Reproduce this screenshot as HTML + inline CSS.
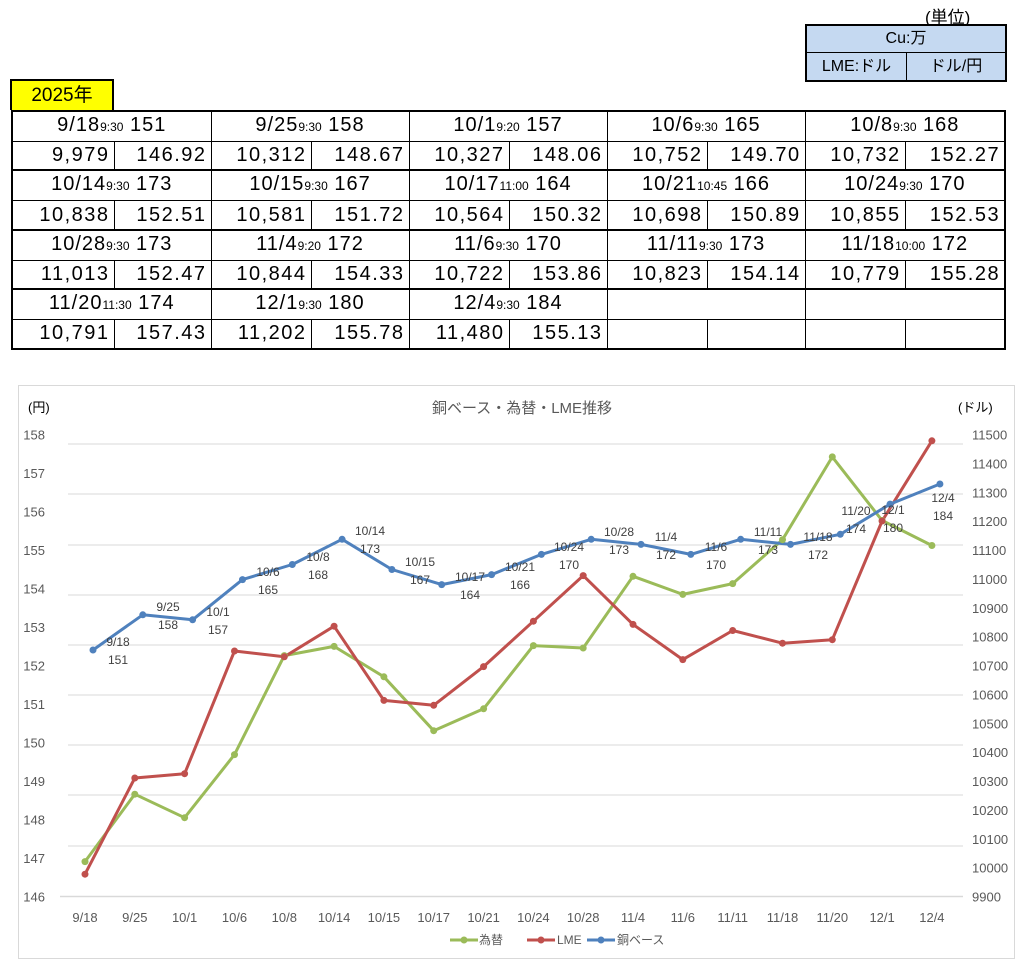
<!DOCTYPE html>
<html><head><meta charset="utf-8">
<style>
body{margin:0;width:1036px;height:974px;background:#fff;position:relative;overflow:hidden;font-family:"Liberation Sans","Noto Sans CJK JP",sans-serif;}
.abs{position:absolute;}
table.t{position:absolute;left:11px;top:110px;border-collapse:collapse;table-layout:fixed;width:993px;}
table.t td{height:27.4px;border:1px solid #000;padding:0;font-size:20px;line-height:27px;white-space:nowrap;overflow:hidden;color:#000;}
table.t tr.h td{text-align:center;border-top:2px solid #000;letter-spacing:1px;}
table.t tr.v td{text-align:right;padding-right:4px;border-bottom:2px solid #000;letter-spacing:1.5px;}
table.t td.L{border-left:2px solid #000;}
table.t td.R{border-right:2px solid #000;}
small{font-size:12px;letter-spacing:0;}
</style></head><body>
<div class="abs" style="left:925px;top:3px;font-size:17px;">(単位)</div>
<div class="abs" style="left:805px;top:24px;width:198px;height:54px;border:2px solid #000;background:#c5d9f1;">
 <div style="height:26px;border-bottom:1px solid #000;text-align:center;font-size:16px;line-height:26px;">Cu:万</div>
 <div style="display:flex;height:27px;font-size:16px;line-height:27px;">
  <div style="width:99px;border-right:1px solid #000;text-align:center;">LME:ドル</div>
  <div style="flex:1;text-align:center;">ドル/円</div>
 </div>
</div>
<div class="abs" style="left:10px;top:79px;width:100px;height:29px;background:#ffff00;border:2px solid #000;border-bottom:none;font-size:19px;line-height:30px;text-align:center;">2025年</div>
<table class="t">
<colgroup><col style="width:102px"><col style="width:97px"><col style="width:100px"><col style="width:98px"><col style="width:100px"><col style="width:98px"><col style="width:100px"><col style="width:98px"><col style="width:100px"><col style="width:100px"></colgroup>
<tr class="h"><td colspan="2" class="L">9/18<small>9:30</small> 151</td><td colspan="2">9/25<small>9:30</small> 158</td><td colspan="2">10/1<small>9:20</small> 157</td><td colspan="2">10/6<small>9:30</small> 165</td><td colspan="2" class="R">10/8<small>9:30</small> 168</td></tr>
<tr class="v"><td class="L">9,979</td><td>146.92</td><td>10,312</td><td>148.67</td><td>10,327</td><td>148.06</td><td>10,752</td><td>149.70</td><td>10,732</td><td class="R">152.27</td></tr>
<tr class="h"><td colspan="2" class="L">10/14<small>9:30</small> 173</td><td colspan="2">10/15<small>9:30</small> 167</td><td colspan="2">10/17<small>11:00</small> 164</td><td colspan="2">10/21<small>10:45</small> 166</td><td colspan="2" class="R">10/24<small>9:30</small> 170</td></tr>
<tr class="v"><td class="L">10,838</td><td>152.51</td><td>10,581</td><td>151.72</td><td>10,564</td><td>150.32</td><td>10,698</td><td>150.89</td><td>10,855</td><td class="R">152.53</td></tr>
<tr class="h"><td colspan="2" class="L">10/28<small>9:30</small> 173</td><td colspan="2">11/4<small>9:20</small> 172</td><td colspan="2">11/6<small>9:30</small> 170</td><td colspan="2">11/11<small>9:30</small> 173</td><td colspan="2" class="R">11/18<small>10:00</small> 172</td></tr>
<tr class="v"><td class="L">11,013</td><td>152.47</td><td>10,844</td><td>154.33</td><td>10,722</td><td>153.86</td><td>10,823</td><td>154.14</td><td>10,779</td><td class="R">155.28</td></tr>
<tr class="h"><td colspan="2" class="L">11/20<small>11:30</small> 174</td><td colspan="2">12/1<small>9:30</small> 180</td><td colspan="2">12/4<small>9:30</small> 184</td><td colspan="2"></td><td colspan="2" class="R"></td></tr>
<tr class="v"><td class="L">10,791</td><td>157.43</td><td>11,202</td><td>155.78</td><td>11,480</td><td>155.13</td><td></td><td></td><td></td><td class="R"></td></tr>
</table>

<svg class="abs" style="left:0;top:0" width="1036" height="974" font-family="Liberation Sans, Noto Sans CJK JP, sans-serif">
<rect x="18.5" y="385.5" width="996" height="573" fill="none" stroke="#d9d9d9"/>
<text x="522" y="413" font-size="15" fill="#595959" text-anchor="middle">銅ベース・為替・LME推移</text>
<text x="28" y="412" font-size="13" fill="#000">(円)</text>
<text x="958" y="412" font-size="13" fill="#000">(ドル)</text>
<g stroke="#d9d9d9" stroke-width="1">
<line x1="68" x2="963" y1="444" y2="444"/><line x1="68" x2="963" y1="494" y2="494"/><line x1="68" x2="963" y1="545" y2="545"/><line x1="68" x2="963" y1="595" y2="595"/><line x1="68" x2="963" y1="645" y2="645"/><line x1="68" x2="963" y1="695" y2="695"/><line x1="68" x2="963" y1="745" y2="745"/><line x1="68" x2="963" y1="795" y2="795"/><line x1="68" x2="963" y1="846" y2="846"/>
</g>
<line x1="60" x2="963" y1="896.5" y2="896.5" stroke="#d9d9d9" stroke-width="1.5"/>
<g font-size="13" fill="#595959" text-anchor="end" dominant-baseline="central">
<text x="45" y="435">158</text><text x="45" y="473.5">157</text><text x="45" y="512">156</text><text x="45" y="550.5">155</text><text x="45" y="589">154</text><text x="45" y="627.5">153</text><text x="45" y="666">152</text><text x="45" y="704.5">151</text><text x="45" y="743">150</text><text x="45" y="781.5">149</text><text x="45" y="820">148</text><text x="45" y="858.5">147</text><text x="45" y="897">146</text>
</g>
<g font-size="13" fill="#595959" dominant-baseline="central">
<text x="972" y="435">11500</text><text x="972" y="463.9">11400</text><text x="972" y="492.8">11300</text><text x="972" y="521.6">11200</text><text x="972" y="550.5">11100</text><text x="972" y="579.4">11000</text><text x="972" y="608.3">10900</text><text x="972" y="637.1">10800</text><text x="972" y="666">10700</text><text x="972" y="694.9">10600</text><text x="972" y="723.8">10500</text><text x="972" y="752.6">10400</text><text x="972" y="781.5">10300</text><text x="972" y="810.4">10200</text><text x="972" y="839.3">10100</text><text x="972" y="868.1">10000</text><text x="972" y="897">9900</text>
</g>
<g font-size="13" fill="#595959" text-anchor="middle">
<text x="85" y="922">9/18</text><text x="134.8" y="922">9/25</text><text x="184.6" y="922">10/1</text><text x="234.5" y="922">10/6</text><text x="284.3" y="922">10/8</text><text x="334.1" y="922">10/14</text><text x="383.9" y="922">10/15</text><text x="433.7" y="922">10/17</text><text x="483.6" y="922">10/21</text><text x="533.4" y="922">10/24</text><text x="583.2" y="922">10/28</text><text x="633" y="922">11/4</text><text x="682.8" y="922">11/6</text><text x="732.7" y="922">11/11</text><text x="782.5" y="922">11/18</text><text x="832.3" y="922">11/20</text><text x="882.1" y="922">12/1</text><text x="931.9" y="922">12/4</text>
</g>
<g fill="none" stroke-width="3" stroke-linejoin="round">
<polyline stroke="#9bbb59" points="85,861.6 134.8,794.2 184.6,817.7 234.5,754.6 284.3,655.6 334.1,646.4 383.9,676.8 433.7,730.7 483.6,708.8 533.4,645.6 583.2,648 633,576.3 682.8,594.4 732.7,583.6 782.5,539.7 832.3,456.9 882.1,520.5 931.9,545.5"/>
<polyline stroke="#c0504d" points="85,874.2 134.8,778 184.6,773.7 234.5,651 284.3,656.8 334.1,626.2 383.9,700.4 433.7,705.3 483.6,666.6 533.4,621.2 583.2,575.6 633,624.4 682.8,659.6 732.7,630.5 782.5,643.2 832.3,639.7 882.1,521 931.9,440.8"/>
<polyline stroke="#4f81bd" points="93,650 142.8,614.8 192.6,619.8 242.5,579.6 292.3,564.5 342.1,539.3 391.9,569.5 441.7,584.6 491.6,574.6 541.4,554.4 591.2,539.3 641,544.4 690.8,554.4 740.7,539.3 790.5,544.4 840.3,534.3 890.1,504.1 939.9,484"/>
</g>
<g fill="#9bbb59"><circle cx="85" cy="861.6" r="3.5"/><circle cx="134.8" cy="794.2" r="3.5"/><circle cx="184.6" cy="817.7" r="3.5"/><circle cx="234.5" cy="754.6" r="3.5"/><circle cx="284.3" cy="655.6" r="3.5"/><circle cx="334.1" cy="646.4" r="3.5"/><circle cx="383.9" cy="676.8" r="3.5"/><circle cx="433.7" cy="730.7" r="3.5"/><circle cx="483.6" cy="708.8" r="3.5"/><circle cx="533.4" cy="645.6" r="3.5"/><circle cx="583.2" cy="648" r="3.5"/><circle cx="633" cy="576.3" r="3.5"/><circle cx="682.8" cy="594.4" r="3.5"/><circle cx="732.7" cy="583.6" r="3.5"/><circle cx="782.5" cy="539.7" r="3.5"/><circle cx="832.3" cy="456.9" r="3.5"/><circle cx="882.1" cy="520.5" r="3.5"/><circle cx="931.9" cy="545.5" r="3.5"/></g>
<g fill="#c0504d"><circle cx="85" cy="874.2" r="3.5"/><circle cx="134.8" cy="778" r="3.5"/><circle cx="184.6" cy="773.7" r="3.5"/><circle cx="234.5" cy="651" r="3.5"/><circle cx="284.3" cy="656.8" r="3.5"/><circle cx="334.1" cy="626.2" r="3.5"/><circle cx="383.9" cy="700.4" r="3.5"/><circle cx="433.7" cy="705.3" r="3.5"/><circle cx="483.6" cy="666.6" r="3.5"/><circle cx="533.4" cy="621.2" r="3.5"/><circle cx="583.2" cy="575.6" r="3.5"/><circle cx="633" cy="624.4" r="3.5"/><circle cx="682.8" cy="659.6" r="3.5"/><circle cx="732.7" cy="630.5" r="3.5"/><circle cx="782.5" cy="643.2" r="3.5"/><circle cx="832.3" cy="639.7" r="3.5"/><circle cx="882.1" cy="521" r="3.5"/><circle cx="931.9" cy="440.8" r="3.5"/></g>
<g fill="#4f81bd"><circle cx="93" cy="650" r="3.5"/><circle cx="142.8" cy="614.8" r="3.5"/><circle cx="192.6" cy="619.8" r="3.5"/><circle cx="242.5" cy="579.6" r="3.5"/><circle cx="292.3" cy="564.5" r="3.5"/><circle cx="342.1" cy="539.3" r="3.5"/><circle cx="391.9" cy="569.5" r="3.5"/><circle cx="441.7" cy="584.6" r="3.5"/><circle cx="491.6" cy="574.6" r="3.5"/><circle cx="541.4" cy="554.4" r="3.5"/><circle cx="591.2" cy="539.3" r="3.5"/><circle cx="641" cy="544.4" r="3.5"/><circle cx="690.8" cy="554.4" r="3.5"/><circle cx="740.7" cy="539.3" r="3.5"/><circle cx="790.5" cy="544.4" r="3.5"/><circle cx="840.3" cy="534.3" r="3.5"/><circle cx="890.1" cy="504.1" r="3.5"/><circle cx="939.9" cy="484" r="3.5"/></g>
<g font-size="12" fill="#404040" text-anchor="middle" dominant-baseline="central">
<text x="118" y="642">9/18</text><text x="118" y="660">151</text>
<text x="168" y="607">9/25</text><text x="168" y="625">158</text>
<text x="218" y="612">10/1</text><text x="218" y="630">157</text>
<text x="268" y="572">10/6</text><text x="268" y="590">165</text>
<text x="318" y="557">10/8</text><text x="318" y="575">168</text>
<text x="370" y="531">10/14</text><text x="370" y="549">173</text>
<text x="420" y="562">10/15</text><text x="420" y="580">167</text>
<text x="470" y="577">10/17</text><text x="470" y="595">164</text>
<text x="520" y="567">10/21</text><text x="520" y="585">166</text>
<text x="569" y="547">10/24</text><text x="569" y="565">170</text>
<text x="619" y="532">10/28</text><text x="619" y="550">173</text>
<text x="666" y="537">11/4</text><text x="666" y="555">172</text>
<text x="716" y="547">11/6</text><text x="716" y="565">170</text>
<text x="768" y="532">11/11</text><text x="768" y="550">173</text>
<text x="818" y="537">11/18</text><text x="818" y="555">172</text>
<text x="856" y="511">11/20</text><text x="856" y="529">174</text>
<text x="893" y="510">12/1</text><text x="893" y="528">180</text>
<text x="943" y="498">12/4</text><text x="943" y="516">184</text>
</g>
<g font-size="12" fill="#595959" dominant-baseline="central">
<line x1="450" x2="478" y1="940" y2="940" stroke="#9bbb59" stroke-width="3"/><circle cx="464" cy="940" r="3.5" fill="#9bbb59"/><text x="479" y="940">為替</text>
<line x1="527" x2="555" y1="940" y2="940" stroke="#c0504d" stroke-width="3"/><circle cx="541" cy="940" r="3.5" fill="#c0504d"/><text x="557" y="940">LME</text>
<line x1="587" x2="615" y1="940" y2="940" stroke="#4f81bd" stroke-width="3"/><circle cx="601" cy="940" r="3.5" fill="#4f81bd"/><text x="617" y="940">銅ベース</text>
</g>
</svg>
</body></html>
